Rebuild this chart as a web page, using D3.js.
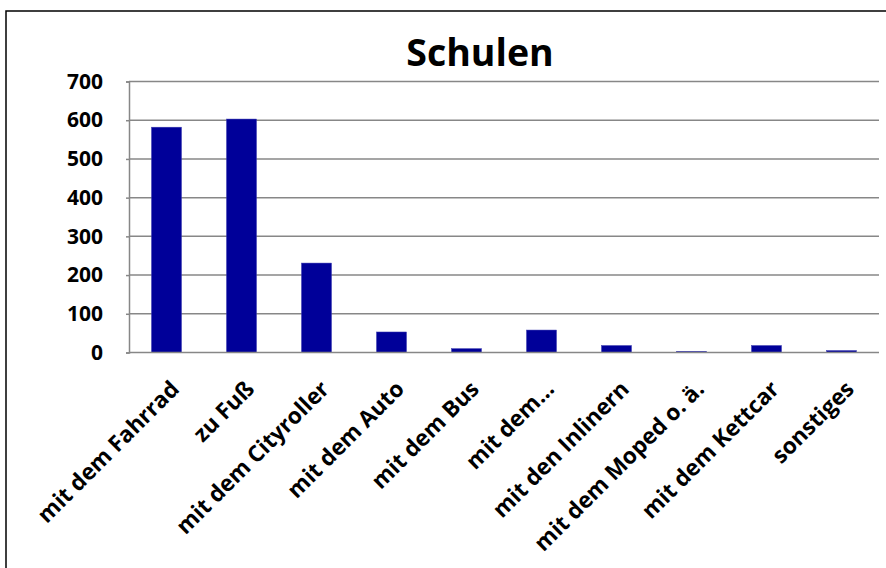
<!DOCTYPE html>
<html><head><meta charset="utf-8">
<script src="https://cdn.jsdelivr.net/npm/d3@7"></script>
<style>body{margin:0;background:#fff;} svg{display:block;}</style>
</head><body>
<svg id="chart" width="886" height="568"></svg>
<script>
const titleText = "Schulen";
const categories = ["mit dem Fahrrad","zu Fuß","mit dem Cityroller","mit dem Auto","mit dem Bus","mit dem…","mit den Inlinern","mit dem Moped o. ä.","mit dem Kettcar","sonstiges"];
const values = [582, 603, 231, 53, 10, 58, 18, 3, 18, 5];
const yTicks = [0,100,200,300,400,500,600,700];

const svg = d3.select("#chart");
const font = "'Open Sans', 'Noto Sans', sans-serif";
const m = {left:129, right:879, top:81.5, bottom:352.5};

svg.append("rect").attr("x",6).attr("y",11).attr("width",900).attr("height",600)
  .attr("fill","#fff").attr("stroke","#000").attr("stroke-width",1.5);

const x = d3.scaleBand().domain(categories).range([m.left,m.right]).paddingInner(0.6).paddingOuter(0.3);
const y = d3.scaleLinear().domain([0,700]).range([m.bottom,m.top]);

// gridlines
svg.append("g").selectAll("line").data(yTicks.filter(d=>d>0)).join("line")
  .attr("x1",m.left).attr("x2",m.right).attr("y1",d=>y(d)).attr("y2",d=>y(d))
  .attr("stroke","#878787").attr("stroke-width",1.5);

// y axis
const ya = svg.append("g").attr("transform",`translate(${m.left},0)`)
  .call(d3.axisLeft(y).tickValues(yTicks).tickSize(3).tickPadding(23));
ya.select(".domain").attr("stroke","#878787").attr("stroke-width",1.5);
ya.selectAll(".tick line").attr("stroke","#878787").attr("stroke-width",1.5);
ya.selectAll("text").attr("font-family",font).attr("font-weight","bold").attr("font-size",21).attr("fill","#000");

// bars
svg.append("g").selectAll("rect").data(values).join("rect")
  .attr("x",(d,i)=>x(categories[i])).attr("width",x.bandwidth())
  .attr("y",d=>y(d)).attr("height",d=>y(0)-y(d))
  .attr("fill","#000099").attr("stroke","#3a3ab0").attr("stroke-width",0.5);

// x axis line
const xa = svg.append("g").attr("transform",`translate(0,${m.bottom})`)
  .call(d3.axisBottom(x).tickSize(0).tickPadding(0));
xa.select(".domain").attr("stroke","#878787").attr("stroke-width",1.5).attr("d",`M${m.left},0H${m.right}`);
xa.selectAll(".tick text")
  .attr("font-family",font).attr("font-weight","bold").attr("font-size",22.5).attr("fill","#000")
  .attr("text-anchor","end")
  .attr("transform","translate(14,38) rotate(-45)")
  .attr("dy","0");

svg.append("text").attr("x",480).attr("y",66).attr("text-anchor","middle")
  .attr("font-family",font).attr("font-weight","bold").attr("font-size",37.5).text(titleText);
</script>
</body></html>
